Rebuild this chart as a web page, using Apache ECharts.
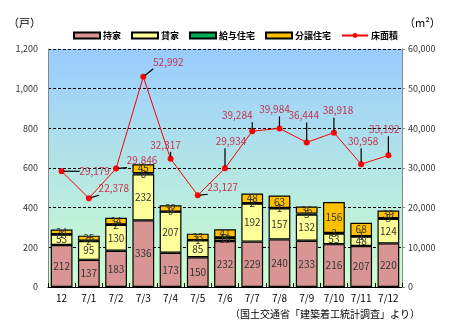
<!DOCTYPE html>
<html>
<head>
<meta charset="utf-8">
<script src="https://cdn.jsdelivr.net/npm/echarts@6/dist/echarts.min.js"></script>
<style>
html,body{margin:0;padding:0;background:#fff;}
#chart{width:454px;height:331px;}
</style>
</head>
<body>
<div id="chart"></div>
<script>
// 月別の新設住宅着工戸数（利用関係別）と床面積
const categories = ['12','7/1','7/2','7/3','7/4','7/5','7/6','7/7','7/8','7/9','7/10','7/11','7/12'];
const owned     = [212,137,183,336,173,150,232,229,240,233,216,207,220]; // 持家
const rented    = [53,95,130,232,207,85,15,192,157,132,53,48,124];       // 貸家
const company   = [1,2,2,6,0,1,3,2,1,5,3,1,3];                           // 給与住宅
const forSale   = [24,25,34,45,32,33,41,48,63,36,156,68,39];            // 分譲住宅
const floorArea = [29179,22378,29846,52992,32317,23127,29934,39284,39984,36444,38918,30958,33192]; // 床面積
const leftTicks  = [0,200,400,600,800,1000,1200];
const rightTicks = [0,10000,20000,30000,40000,50000,60000];

// 床面積ラベルの引き出し位置（点からのずれ）
const areaLabelOffset = [[33,0],[25,-10],[26,-8],[25,-15],[-5,-14],[25,-8],[6,-27],[-15,-16],[-5,-19],[-3,-27],[4,-22],[2,-23],[-4,-26]];

const fmt = v => String(v).replace(/\B(?=(\d{3})+(?!\d))/g, ',');
const font = '"Noto Sans CJK JP", sans-serif';

function barSeries(name, data, color) {
  return {
    name, type: 'bar', stack: 'house', data, barWidth: '80%',
    itemStyle: { color, borderColor: '#000', borderWidth: 1.2 },
    label: { show: true, position: 'inside', fontSize: 10, color: '#333', fontFamily: font },
    z: 2
  };
}

// 床面積の値ラベルと引き出し線
function renderAreaLabel(params, api) {
  const i = api.value(0);
  const v = api.value(1);
  const p = api.coord([i, v]);
  const off = areaLabelOffset[params.dataIndex];
  const cx = p[0] + off[0], cy = p[1] + off[1];
  const hw = 15, hh = 7;
  const ex = Math.min(Math.max(p[0], cx - hw), cx + hw);
  const ey = Math.min(Math.max(p[1], cy - hh), cy + hh);
  const dx = ex - p[0], dy = ey - p[1];
  const len = Math.sqrt(dx * dx + dy * dy) || 1;
  const sx = p[0] + dx / len * 2, sy = p[1] + dy / len * 2;
  return {
    type: 'group',
    children: [
      {
        type: 'polyline', z2: 10,
        shape: { points: [[sx, sy], [ex, ey]] },
        style: { stroke: '#000', lineWidth: 1.2, fill: null }
      },
      {
        type: 'text', x: cx, y: cy, z2: 11,
        style: { text: fmt(v), fontSize: 10, fill: '#c8324f', fontFamily: font, align: 'center', verticalAlign: 'middle' }
      }
    ]
  };
}

const chart = echarts.init(document.getElementById('chart'), null, { renderer: 'canvas' });
chart.setOption({
  animation: false,
  textStyle: { fontFamily: font },
  grid: {
    left: 48, right: 52, top: 49, bottom: 44, show: true, borderWidth: 0,
    backgroundColor: new echarts.graphic.LinearGradient(0, 0, 0, 1, [
      { offset: 0, color: '#99ccff' },
      { offset: 1, color: '#ccffcc' }
    ])
  },
  legend: {
    top: 26, left: 68, itemWidth: 26, itemHeight: 6, itemGap: 10,
    textStyle: { fontSize: 9, color: '#000', fontWeight: 'bold', fontFamily: font, padding: [0, 0, 0, -2] },
    data: [
      { name: '持家', icon: 'rect' }, { name: '貸家', icon: 'rect' },
      { name: '給与住宅', icon: 'rect' }, { name: '分譲住宅', icon: 'rect' }, '床面積'
    ]
  },
  graphic: [
    { type: 'text', left: 8, top: 17, style: { text: '（戸）', fontSize: 11, fill: '#000', fontFamily: font } },
    { type: 'text', left: 404, top: 17, style: { text: '（m²）', fontSize: 11, fill: '#000', fontFamily: font } },
    { type: 'text', right: 34, top: 309, style: { text: '（国土交通省「建築着工統計調査」より）', fontSize: 10, fill: '#000', fontFamily: font } }
  ],
  xAxis: {
    type: 'category', data: categories,
    axisLine: { lineStyle: { color: '#000', width: 1 } },
    axisTick: { show: true, inside: true, length: 4, lineStyle: { color: '#000' } },
    axisLabel: { fontSize: 10, color: '#000', margin: 6 }
  },
  yAxis: [
    {
      type: 'value', min: leftTicks[0], max: leftTicks[leftTicks.length - 1], interval: 200,
      axisLine: { show: true, lineStyle: { color: '#888' } },
      axisTick: { show: false },
      axisLabel: { fontSize: 9, color: '#333', margin: 10, formatter: fmt },
      splitLine: { lineStyle: { color: '#000', type: [3, 2], width: 1 } }
    },
    {
      type: 'value', min: rightTicks[0], max: rightTicks[rightTicks.length - 1], interval: 10000,
      axisLine: { show: true, lineStyle: { color: '#888' } },
      axisTick: { show: true, length: 3, lineStyle: { color: '#888' } },
      axisLabel: { fontSize: 9, color: '#333', margin: 6, formatter: fmt },
      splitLine: { show: false }
    }
  ],
  series: [
    barSeries('持家', owned, '#d99594'),
    barSeries('貸家', rented, '#ffff99'),
    barSeries('給与住宅', company, '#00b050'),
    barSeries('分譲住宅', forSale, '#ffc000'),
    {
      name: '床面積', type: 'line', yAxisIndex: 1, data: floorArea,
      symbol: 'circle', symbolSize: 6,
      lineStyle: { color: '#ff0000', width: 1 },
      itemStyle: { color: '#ff0000' },
      z: 5
    },
    {
      type: 'custom', yAxisIndex: 1, silent: true, z: 6,
      data: floorArea.map((v, i) => [i, v]),
      renderItem: renderAreaLabel
    }
  ]
});
</script>
</body>
</html>
